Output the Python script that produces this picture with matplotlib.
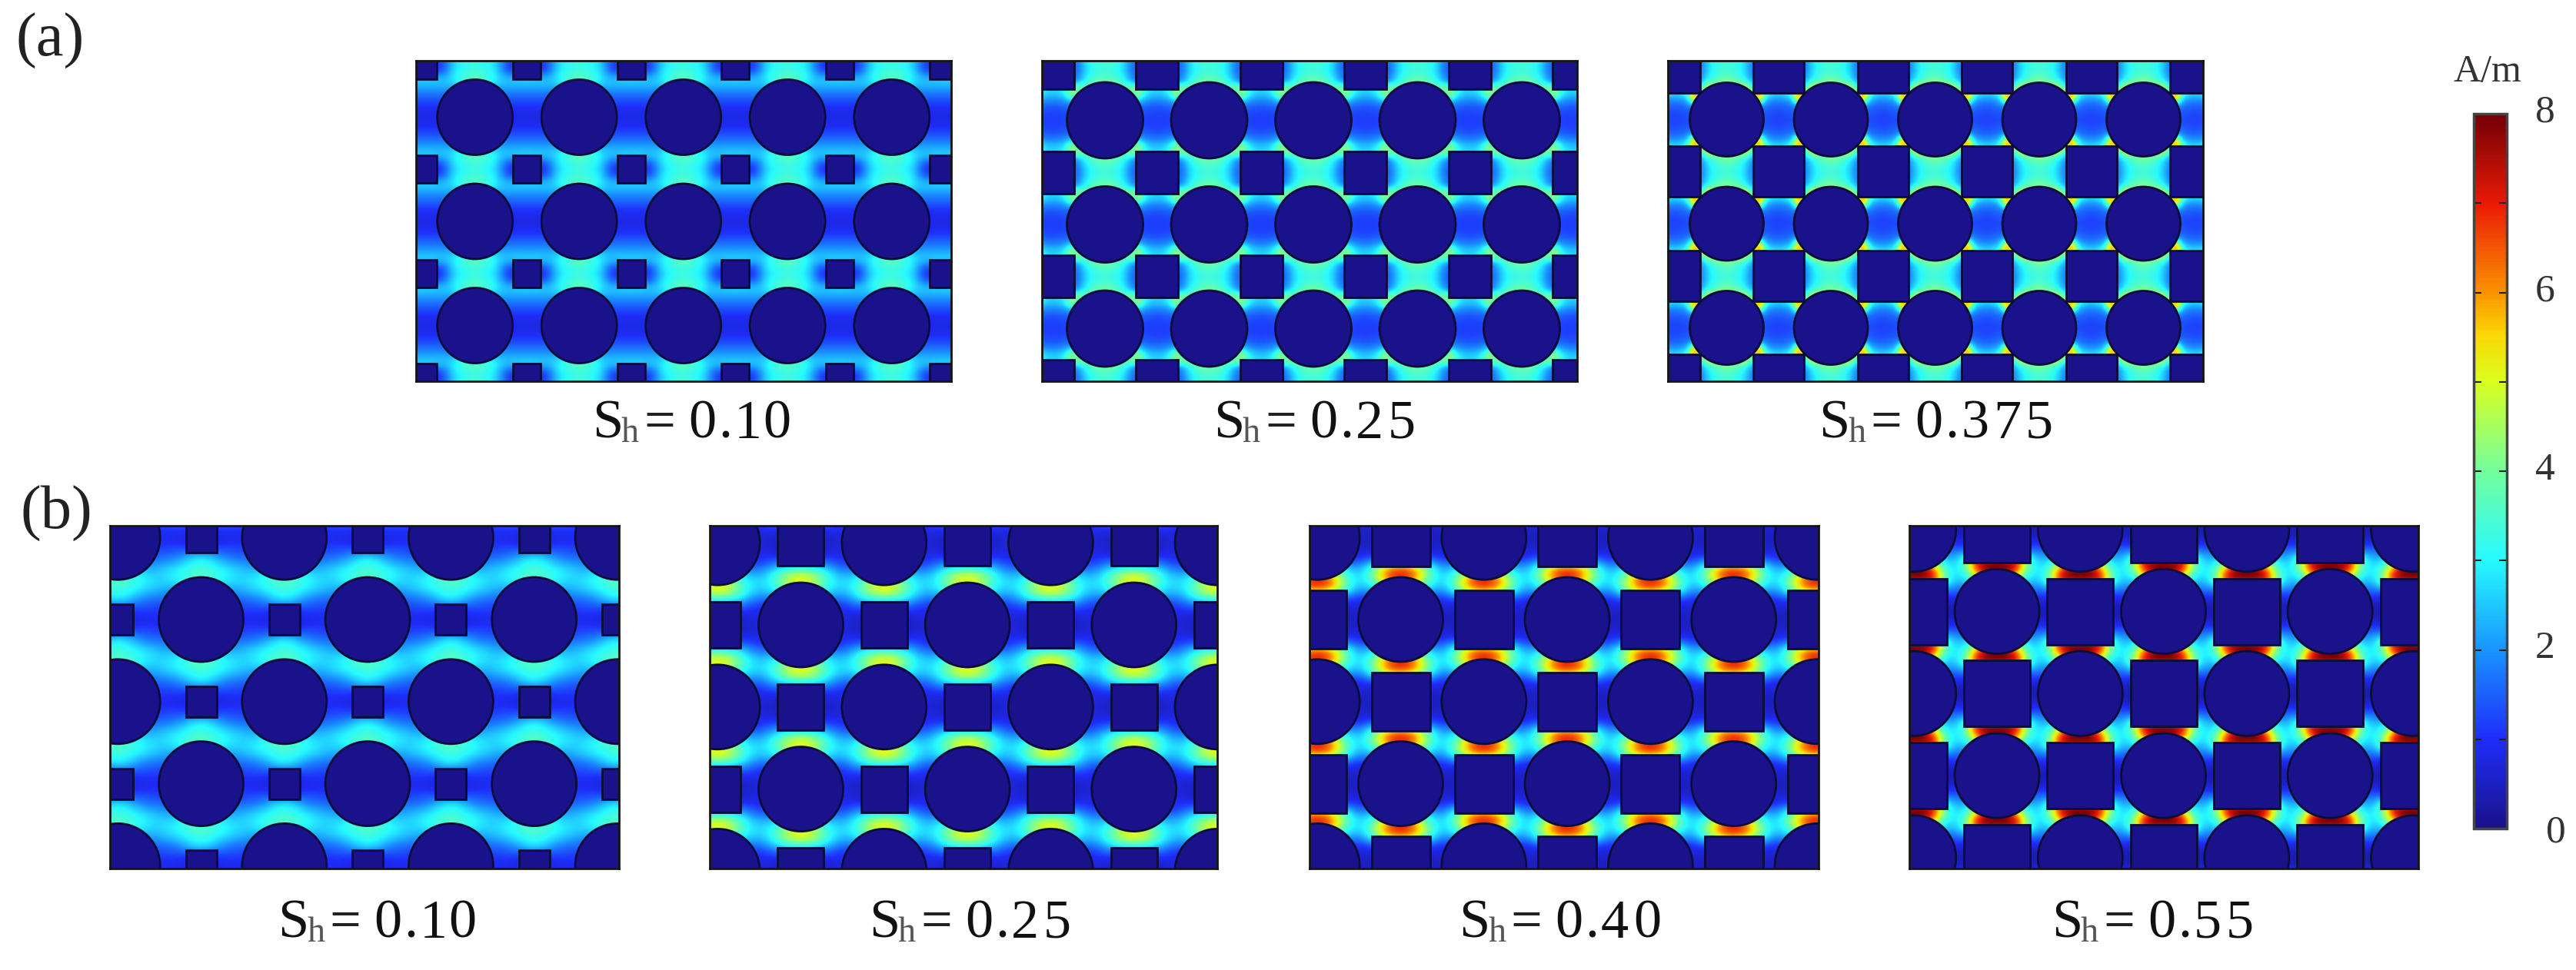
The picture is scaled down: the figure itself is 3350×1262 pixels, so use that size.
import numpy as np
import matplotlib
matplotlib.use('Agg')
import matplotlib.pyplot as plt
from matplotlib.colors import LinearSegmentedColormap
from matplotlib.patches import Circle, Rectangle
from matplotlib.cm import ScalarMappable
from matplotlib.colors import Normalize

plt.rcParams['font.family'] = ['Liberation Serif', 'DejaVu Serif']

W = 3350
H = 1262

# field in A/m, one quarter of the repeating cell
# rows run from the circle centre row to the square centre row
FIELD_A1 = [
    [0.9, 0.9, 0.9, 0.9, 0.9, 0.9, 0.85, 0.80, 0.80],
    [0.9, 0.9, 0.9, 0.9, 0.9, 0.9, 0.90, 0.90, 0.90],
    [1.0, 1.0, 1.0, 1.0, 1.0, 1.1, 1.10, 1.10, 1.10],
    [1.4, 1.4, 1.4, 1.4, 1.4, 1.5, 1.50, 1.50, 1.50],
    [2.0, 2.0, 2.0, 2.0, 1.9, 1.9, 1.90, 1.90, 1.90],
    [3.6, 3.4, 3.0, 2.7, 2.4, 2.4, 2.40, 2.40, 2.40],
    [3.8, 3.6, 3.4, 3.0, 2.6, 2.4, 2.50, 2.60, 2.60],
    [3.4, 3.3, 3.15, 2.9, 2.2, 1.50, 1.30, 1.30, 1.30],
    [3.3, 3.2, 3.0, 2.7, 2.0, 1.15, 0.90, 0.90, 0.90],
]
FIELD_A2 = [
    [1.2, 1.2, 1.2, 1.2, 1.2, 1.2, 1.20, 1.15, 1.15],
    [1.2, 1.2, 1.2, 1.2, 1.2, 1.25, 1.25, 1.20, 1.20],
    [1.3, 1.3, 1.3, 1.3, 1.3, 1.6, 1.50, 1.40, 1.35],
    [2.0, 2.0, 2.0, 2.0, 2.0, 2.6, 2.10, 1.90, 1.85],
    [3.0, 3.0, 3.0, 3.0, 3.0, 5.0, 3.20, 2.60, 2.50],
    [4.0, 4.0, 4.0, 3.8, 4.5, 4.0, 3.2, 2.8, 2.7],
    [4.0, 3.9, 3.6, 3.1, 2.2, 1.6, 1.6, 1.6, 1.6],
    [3.5, 3.4, 3.2, 2.7, 1.9, 1.5, 1.5, 1.5, 1.5],
    [3.3, 3.3, 3.1, 2.6, 1.7, 1.4, 1.4, 1.4, 1.4],
]
FIELD_A3 = [
    [1.3, 1.3, 1.3, 1.3, 1.3, 1.3, 1.3, 1.2, 1.2],
    [1.4, 1.4, 1.4, 1.4, 1.4, 1.4, 1.4, 1.3, 1.25],
    [1.7, 1.7, 1.7, 1.7, 1.7, 1.7, 1.7, 1.5, 1.45],
    [3.0, 3.0, 3.0, 3.0, 3.0, 5.5, 2.3, 2.0, 1.9],
    [4.5, 4.5, 4.5, 4.5, 5.0, 7.5, 3.6, 2.9, 2.7],
    [4.5, 4.5, 4.8, 5.0, 3.0, 2.7, 2.7, 2.7, 2.7],
    [4.2, 3.9, 3.5, 3.0, 2.0, 2.0, 2.0, 2.0, 2.0],
    [3.5, 3.4, 3.2, 2.6, 1.8, 1.8, 1.8, 1.8, 1.8],
    [3.4, 3.3, 3.1, 2.5, 1.7, 1.7, 1.7, 1.7, 1.7],
]

# staggered maps: circle at one corner, square at the next, rest by symmetry
FIELD_B1 = [
    [0.8, 0.8, 0.8, 0.8, 0.9, 0.8, 0.7, 0.7, 0.7],
    [1.1, 1.1, 1.1, 1.1, 1.1, 1.2, 1.2, 1.0, 1.0],
    [1.6, 1.6, 1.6, 1.6, 1.6, 1.7, 2.0, 2.7, 3.0],
    [3.0, 3.0, 2.4, 2.2, 2.4, 2.7, 3.0, 3.2, 3.4],
    [3.8, 3.6, 3.2, 2.9, 2.7, 2.9, 3.2, 3.6, 3.8],
]
FIELD_B2 = [
    [0.7, 0.7, 0.7, 0.7, 0.7, 0.6, 0.5, 0.5, 0.5],
    [0.8, 0.8, 0.8, 0.8, 0.8, 0.7, 0.6, 0.6, 0.6],
    [1.1, 1.1, 1.1, 1.1, 1.1, 1.5, 1.8, 1.8, 1.8],
    [4.4, 4.0, 2.8, 2.3, 2.2, 2.8, 3.8, 4.6, 4.9],
    [5.4, 5.0, 4.0, 3.1, 2.8, 3.1, 4.0, 5.0, 5.4],
]
FIELD_B3 = [
    [0.5, 0.5, 0.5, 0.5, 0.5, 0.5, 0.5, 0.5, 0.5],
    [0.6, 0.6, 0.6, 0.6, 0.6, 0.5, 0.5, 0.5, 0.5],
    [0.9, 0.9, 0.9, 0.9, 0.9, 1.2, 1.2, 1.2, 1.2],
    [6.5, 5.5, 3.2, 2.5, 2.2, 3.4, 5.2, 6.6, 7.0],
    [7.0, 6.6, 5.2, 3.5, 2.8, 3.5, 5.2, 6.6, 7.0],
]
FIELD_B4 = [
    [0.3, 0.3, 0.3, 0.3, 0.3, 0.3, 0.3, 0.3, 0.3],
    [0.6, 0.6, 0.6, 0.6, 0.6, 0.5, 0.4, 0.4, 0.4],
    [1.4, 1.4, 1.4, 1.4, 1.6, 1.5, 1.2, 1.2, 1.2],
    [8.0, 6.5, 3.6, 2.6, 2.4, 4.0, 7.5, 8.0, 8.0],
    [8.0, 8.0, 6.5, 3.6, 2.8, 3.6, 6.5, 8.0, 8.0],
]

PANEL_LABELS_A = ['0.10', '0.25', '0.375']
PANEL_LABELS_B = ['0.10', '0.25', '0.40', '0.55']
SQUARE_HALF_A = [18, 27.5, 33]
SQUARE_HALF_B = [20, 30, 38, 43]
CIRCLE_R_A = [49, 49.5, 48]
CBAR_TICKS = [0, 1, 2, 3, 4, 5, 6, 7, 8]
CBAR_LABELS = ['0', '', '2', '', '4', '', '6', '', '8']

# panel boxes in image pixels: left, top, right, bottom
BOX_A = [(541, 79, 1237, 496), (1355, 79, 2051, 496), (2169, 79, 2865, 496)]
BOX_B = [(143, 684, 805, 1130), (923, 684, 1583, 1130),
         (1703, 684, 2365, 1130), (2483, 684, 3145, 1130)]
ORIGIN_A = [(76.7, 73.5), (82, 77.5), (76.5, 76.5)]
ORIGIN_B = [(118.5, 122), (118.5, 129), (118.5, 122), (114, 111.5)]
TEXT_X_A = [770, 1578, 2365]
TEXT_X_B = [361, 1130, 1897, 2668]

cmap = LinearSegmentedColormap.from_list('field', [
    (0.0, (0.10, 0.07, 0.54)),
    (0.125, (0.12, 0.18, 0.98)),
    (0.25, (0.10, 0.58, 1.00)),
    (0.375, (0.15, 0.98, 1.00)),
    (0.5, (0.45, 1.00, 0.62)),
    (0.625, (0.85, 1.00, 0.12)),
    (0.69, (0.98, 0.85, 0.02)),
    (0.75, (0.98, 0.58, 0.00)),
    (0.875, (0.92, 0.10, 0.02)),
    (1.0, (0.45, 0.00, 0.02)),
])
HOLE = cmap(0.0)
EDGE = '#0c0c3a'


def px_axes(fig, box):
    l, t, r, b = box
    return fig.add_axes([l / W, 1 - b / H, (r - l) / W, (b - t) / H])


def draw_map(ax, box, quarter, dx, dy, ox, oy):
    l, t, r, b = box
    pw = r - l
    ph = b - t
    q = np.array(quarter)
    cell = np.vstack([q, q[-2:0:-1]])
    cell = np.hstack([cell, cell[:, -2:0:-1]])
    sx = dx / 8
    sy = dy / 8
    field = np.tile(cell, (6, 8))
    # first sample sits two periods left of / above the first circle
    x0 = ox - 4 * dx
    y0 = oy - 4 * dy
    ax.imshow(field, cmap=cmap, vmin=0, vmax=8, interpolation='bicubic',
              extent=[x0 - sx / 2, x0 + (field.shape[1] - 0.5) * sx,
                      y0 + (field.shape[0] - 0.5) * sy, y0 - sy / 2],
              aspect='auto')
    ax.set_xlim(0, pw)
    ax.set_ylim(ph, 0)
    ax.set_xticks([])
    ax.set_yticks([])
    for s in ax.spines.values():
        s.set_linewidth(2.0)
        s.set_color('#151515')


def add_hole(ax, x, y, r=None, half=None):
    if r is not None:
        p = Circle((x, y), r, facecolor=HOLE, edgecolor=EDGE, lw=2.0)
    else:
        p = Rectangle((x - half, y - half), 2 * half, 2 * half,
                      facecolor=HOLE, edgecolor=EDGE, lw=2.0)
    ax.add_patch(p)


def sh_label(fig, x, y, value):
    fig.text(x / W, 1 - y / H, 'S', fontsize=52, ha='left', va='baseline', color='#111111')
    fig.text((x + 38) / W, 1 - (y + 5) / H, 'h', fontsize=33, ha='left', va='baseline', color='#555555')
    fig.text((x + 67) / W, 1 - y / H, '=', fontsize=52, ha='left', va='baseline', color='#222222')
    cx = x + 143
    for i, ch in enumerate(value):
        if i > 0:
            prev = value[i - 1]
            if ch == '.' or prev == '.':
                cx += 30
            elif prev == '1':
                cx += 37
            else:
                cx += 42
        fig.text(cx / W, 1 - y / H, ch, fontsize=52, ha='center', va='baseline', color='#111111')


fig = plt.figure(figsize=(W / 100, H / 100), dpi=100, facecolor='white')

fields_a = [FIELD_A1, FIELD_A2, FIELD_A3]
for k, box in enumerate(BOX_A):
    ax = px_axes(fig, box)
    px = 135.5
    py = 135.5
    ox, oy = ORIGIN_A[k]
    draw_map(ax, box, fields_a[k], px / 2, py / 2, ox, oy)
    for i in range(-1, 7):
        for j in range(-1, 5):
            add_hole(ax, ox + i * px, oy + j * py, r=CIRCLE_R_A[k])
            add_hole(ax, ox + (i + 0.5) * px, oy + (j + 0.5) * py, half=SQUARE_HALF_A[k])
    sh_label(fig, TEXT_X_A[k], 570, PANEL_LABELS_A[k])

fields_b = [FIELD_B1, FIELD_B2, FIELD_B3, FIELD_B4]
for k, box in enumerate(BOX_B):
    ax = px_axes(fig, box)
    dx = 108.3
    dy = 106.8
    ox, oy = ORIGIN_B[k]
    q = np.array(fields_b[k])
    # lower half of the quarter cell is the upper half turned by 180 degrees
    quarter = np.vstack([q, q[3::-1, ::-1]])
    draw_map(ax, box, quarter, dx, dy, ox, oy)
    for i in range(-2, 9):
        for j in range(-2, 7):
            if (i + j) % 2 == 0:
                add_hole(ax, ox + i * dx, oy + j * dy, r=55)
            else:
                add_hole(ax, ox + i * dx, oy + j * dy, half=SQUARE_HALF_B[k])
    sh_label(fig, TEXT_X_B[k], 1220, PANEL_LABELS_B[k])

fig.text(20 / W, 1 - 73 / H, '(a)', fontsize=58, ha='left', va='baseline', color='#222222')
fig.text(27 / W, 1 - 688 / H, '(b)', fontsize=58, ha='left', va='baseline', color='#222222')

cax = px_axes(fig, (3217, 148, 3260, 1078))
cb = fig.colorbar(ScalarMappable(Normalize(0, 8), cmap), cax=cax, ticks=CBAR_TICKS)
cb.outline.set_edgecolor('#444444')
cb.outline.set_linewidth(2.5)
cax.yaxis.set_ticks_position('both')
cax.tick_params(axis='y', direction='in', length=7, width=1.5, color='#222222', labelright=False, labelleft=False)
for v, lab in zip(CBAR_TICKS, CBAR_LABELS):
    if lab == '':
        continue
    off = (36, 1) if v != 0 else (46, -4)
    cax.annotate(lab, (1, v), xycoords=('axes fraction', 'data'), xytext=off,
                 textcoords='offset points', fontsize=37, ha='center', va='center', color='#333333')
fig.text(3235 / W, 1 - 94 / H, 'A/m', fontsize=36, ha='center', va='center', color='#333333')

fig.savefig('out.png', dpi=100, facecolor='white')
